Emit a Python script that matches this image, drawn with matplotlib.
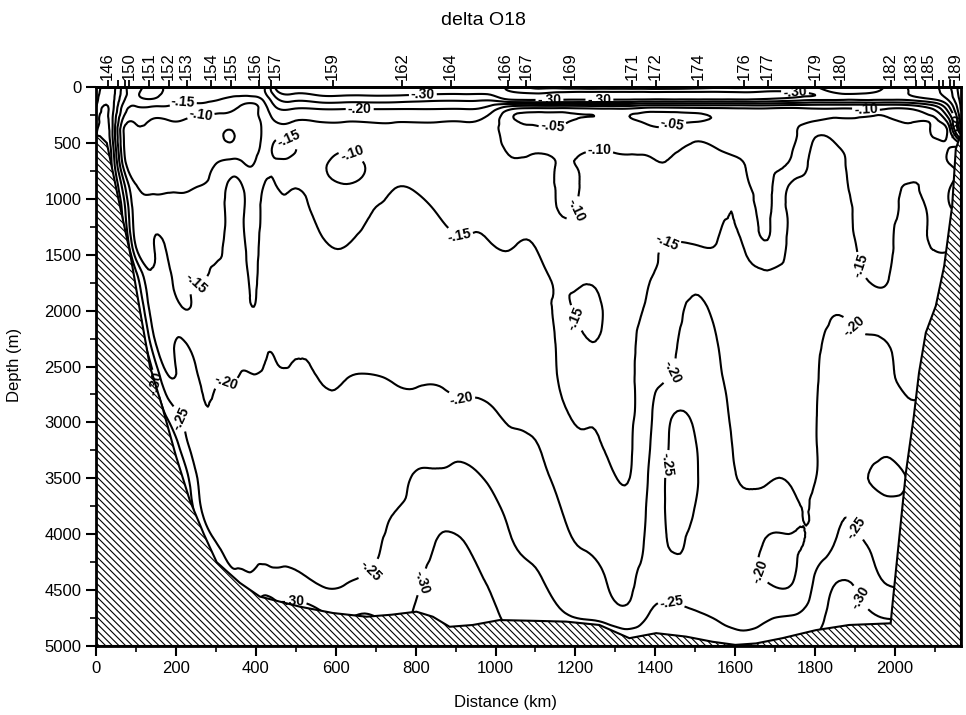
import numpy as np
import matplotlib
matplotlib.use('Agg')
import matplotlib.pyplot as plt
import matplotlib.tri as mtri
from matplotlib.ticker import MultipleLocator

# grid of the section: distance (km) and depth (m)
dist_km = [0, 40, 70, 100, 140, 180, 220, 260, 300, 340, 365, 395, 420, 450, 490,
           560, 620, 680, 740, 800, 860, 920, 980, 1040, 1100, 1160, 1220, 1280,
           1330, 1380, 1440, 1500, 1560, 1620, 1680, 1740, 1800, 1860, 1920, 1980,
           2040, 2090, 2130, 2165]
depth_m = [0, 50, 100, 150, 200, 300, 400, 550, 700, 900, 1100, 1400, 1700, 2000,
           2300, 2600, 2900, 3200, 3500, 3800, 4100, 4400, 4700, 5000]

# delta O18 profiles (one per distance, surface to 5000 m)
d18o = [
    [-.26, -.27, -.28, -.29, -.305, -.32, -.34, -.36, -.36, -.36, -.36, -.36, -.36, -.36, -.36, -.36, -.36, -.36, -.36, -.36, -.36, -.36, -.36, -.36],
    [-.32, -.32, -.32, -.32, -.32, -.31, -.31, -.33, -.345, -.36, -.36, -.36, -.36, -.36, -.36, -.36, -.36, -.36, -.36, -.36, -.36, -.36, -.36, -.36],
    [-.22, -.22, -.21, -.19, -.17, -.13, -.095, -.102, -.13, -.22, -.27, -.32, -.34, -.36, -.36, -.36, -.36, -.36, -.36, -.36, -.36, -.36, -.36, -.36],
    [-.18, -.19, -.185, -.16, -.14, -.11, -.08, -.07, -.08, -.105, -.12, -.14, -.27, -.33, -.36, -.36, -.36, -.36, -.36, -.36, -.36, -.36, -.36, -.36],
    [-.22, -.22, -.205, -.165, -.14, -.095, -.08, -.07, -.08, -.095, -.115, -.14, -.16, -.18, -.235, -.32, -.35, -.36, -.36, -.36, -.36, -.36, -.36, -.36],
    [-.18, -.185, -.17, -.155, -.14, -.098, -.08, -.07, -.08, -.095, -.115, -.14, -.156, -.168, -.18, -.205, -.28, -.35, -.36, -.36, -.36, -.36, -.36, -.36],
    [-.17, -.175, -.16, -.145, -.13, -.098, -.08, -.07, -.075, -.095, -.115, -.135, -.145, -.152, -.205, -.215, -.24, -.27, -.33, -.36, -.36, -.36, -.36, -.36],
    [-.17, -.17, -.16, -.148, -.12, -.09, -.075, -.065, -.08, -.102, -.12, -.14, -.148, -.165, -.18, -.198, -.21, -.225, -.24, -.26, -.32, -.36, -.36, -.36],
    [-.17, -.165, -.155, -.14, -.115, -.09, -.07, -.07, -.102, -.12, -.13, -.142, -.155, -.17, -.185, -.197, -.205, -.215, -.225, -.237, -.255, -.33, -.36, -.36],
    [-.165, -.16, -.145, -.125, -.105, -.08, -.048, -.065, -.12, -.165, -.165, -.165, -.165, -.175, -.185, -.198, -.207, -.212, -.22, -.23, -.24, -.27, -.36, -.36],
    [-.165, -.155, -.14, -.105, -.09, -.075, -.065, -.07, -.11, -.155, -.158, -.16, -.165, -.172, -.187, -.202, -.207, -.212, -.22, -.23, -.24, -.265, -.36, -.36],
    [-.17, -.16, -.14, -.098, -.09, -.08, -.075, -.08, -.102, -.125, -.135, -.14, -.145, -.152, -.175, -.202, -.207, -.212, -.22, -.23, -.24, -.26, -.33, -.36],
    [-.19, -.19, -.165, -.14, -.125, -.115, -.11, -.12, -.135, -.152, -.16, -.163, -.167, -.172, -.19, -.205, -.21, -.213, -.218, -.225, -.235, -.27, -.33, -.36],
    [-.31, -.28, -.245, -.215, -.19, -.153, -.14, -.158, -.145, -.152, -.162, -.168, -.172, -.177, -.192, -.205, -.21, -.213, -.218, -.225, -.235, -.265, -.32, -.36],
    [-.34, -.31, -.27, -.235, -.198, -.153, -.14, -.156, -.14, -.149, -.155, -.165, -.172, -.178, -.192, -.205, -.21, -.213, -.217, -.222, -.232, -.265, -.315, -.36],
    [-.34, -.32, -.28, -.24, -.198, -.153, -.135, -.125, -.11, -.125, -.14, -.155, -.168, -.18, -.19, -.199, -.205, -.21, -.215, -.22, -.23, -.24, -.305, -.34],
    [-.34, -.32, -.28, -.24, -.198, -.153, -.13, -.105, -.085, -.105, -.125, -.148, -.163, -.177, -.188, -.199, -.206, -.212, -.218, -.224, -.232, -.243, -.29, -.34],
    [-.34, -.32, -.28, -.24, -.198, -.153, -.135, -.12, -.105, -.12, -.145, -.16, -.168, -.18, -.19, -.201, -.205, -.212, -.22, -.228, -.238, -.255, -.298, -.34],
    [-.34, -.32, -.28, -.24, -.198, -.153, -.14, -.13, -.135, -.148, -.158, -.165, -.172, -.18, -.19, -.199, -.206, -.215, -.228, -.248, -.258, -.27, -.285, -.33],
    [-.34, -.315, -.275, -.235, -.198, -.153, -.14, -.135, -.14, -.148, -.157, -.165, -.172, -.18, -.19, -.198, -.206, -.225, -.255, -.265, -.275, -.29, -.305, -.34],
    [-.34, -.31, -.27, -.23, -.198, -.153, -.14, -.135, -.137, -.143, -.148, -.158, -.17, -.18, -.19, -.198, -.21, -.235, -.258, -.285, -.305, -.32, -.33, -.34],
    [-.34, -.31, -.27, -.23, -.198, -.153, -.14, -.133, -.135, -.14, -.145, -.152, -.165, -.177, -.187, -.195, -.205, -.235, -.26, -.285, -.302, -.315, -.33, -.34],
    [-.34, -.31, -.27, -.22, -.18, -.135, -.125, -.13, -.135, -.14, -.145, -.151, -.16, -.172, -.182, -.19, -.203, -.215, -.245, -.27, -.28, -.295, -.32, -.34],
    [-.28, -.31, -.32, -.205, -.098, -.06, -.075, -.09, -.11, -.125, -.135, -.148, -.16, -.17, -.18, -.188, -.195, -.205, -.22, -.24, -.252, -.262, -.275, -.31],
    [-.24, -.29, -.32, -.205, -.08, -.04, -.055, -.09, -.11, -.125, -.135, -.148, -.158, -.168, -.178, -.186, -.193, -.201, -.21, -.225, -.24, -.255, -.27, -.31],
    [-.23, -.305, -.32, -.205, -.08, -.04, -.055, -.085, -.098, -.095, -.098, -.12, -.145, -.146, -.145, -.147, -.16, -.178, -.19, -.203, -.215, -.23, -.255, -.31],
    [-.22, -.31, -.32, -.205, -.085, -.06, -.07, -.092, -.105, -.105, -.11, -.13, -.146, -.157, -.146, -.143, -.146, -.155, -.17, -.185, -.198, -.215, -.24, -.31],
    [-.22, -.31, -.32, -.205, -.09, -.065, -.075, -.095, -.11, -.123, -.13, -.137, -.142, -.145, -.143, -.142, -.143, -.146, -.16, -.172, -.185, -.198, -.225, -.31],
    [-.22, -.31, -.32, -.205, -.09, -.06, -.065, -.09, -.105, -.12, -.127, -.133, -.138, -.14, -.14, -.14, -.141, -.143, -.148, -.162, -.175, -.19, -.21, -.31],
    [-.22, -.31, -.32, -.19, -.075, -.04, -.06, -.09, -.105, -.12, -.13, -.142, -.148, -.153, -.165, -.175, -.183, -.19, -.198, -.205, -.21, -.22, -.245, -.31],
    [-.22, -.31, -.32, -.19, -.075, -.04, -.06, -.09, -.105, -.12, -.135, -.151, -.165, -.178, -.19, -.203, -.245, -.255, -.26, -.257, -.252, -.24, -.262, -.31],
    [-.23, -.31, -.32, -.19, -.08, -.045, -.08, -.11, -.125, -.135, -.14, -.149, -.185, -.21, -.22, -.228, -.24, -.252, -.255, -.248, -.24, -.238, -.252, -.31],
    [-.24, -.31, -.32, -.19, -.085, -.06, -.08, -.098, -.12, -.135, -.142, -.152, -.17, -.185, -.198, -.205, -.21, -.213, -.215, -.218, -.222, -.228, -.24, -.28],
    [-.24, -.305, -.32, -.19, -.09, -.07, -.08, -.09, -.102, -.12, -.135, -.148, -.16, -.175, -.185, -.19, -.193, -.195, -.198, -.205, -.21, -.215, -.23, -.27],
    [-.27, -.31, -.31, -.19, -.09, -.07, -.075, -.085, -.09, -.088, -.092, -.103, -.16, -.18, -.188, -.192, -.194, -.196, -.198, -.207, -.197, -.197, -.24, -.28],
    [-.28, -.305, -.295, -.18, -.085, -.075, -.085, -.095, -.11, -.16, -.165, -.165, -.175, -.185, -.19, -.192, -.193, -.195, -.197, -.207, -.195, -.195, -.245, -.28],
    [-.255, -.29, -.28, -.17, -.095, -.098, -.14, -.16, -.165, -.167, -.168, -.17, -.18, -.188, -.195, -.197, -.198, -.198, -.199, -.205, -.215, -.255, -.275, -.31],
    [-.22, -.24, -.27, -.17, -.095, -.11, -.13, -.152, -.16, -.158, -.158, -.16, -.17, -.197, -.21, -.215, -.22, -.225, -.232, -.245, -.26, -.298, -.32, -.34],
    [-.22, -.24, -.27, -.17, -.098, -.11, -.12, -.13, -.135, -.138, -.14, -.142, -.152, -.18, -.205, -.21, -.215, -.225, -.245, -.235, -.255, -.28, -.31, -.34],
    [-.255, -.27, -.27, -.17, -.098, -.11, -.12, -.13, -.135, -.142, -.14, -.142, -.148, -.17, -.201, -.205, -.21, -.235, -.265, -.232, -.238, -.245, -.29, -.34],
    [-.31, -.305, -.28, -.18, -.098, -.095, -.11, -.125, -.135, -.152, -.157, -.16, -.165, -.172, -.18, -.19, -.203, -.215, -.245, -.232, -.238, -.245, -.29, -.34],
    [-.34, -.34, -.31, -.22, -.14, -.095, -.097, -.118, -.13, -.137, -.142, -.148, -.16, -.18, -.19, -.195, -.205, -.215, -.245, -.232, -.238, -.245, -.29, -.34],
    [-.38, -.37, -.355, -.305, -.255, -.16, -.097, -.105, -.106, -.106, -.11, -.14, -.18, -.19, -.195, -.195, -.205, -.215, -.245, -.232, -.238, -.245, -.29, -.34],
    [-.48, -.48, -.47, -.46, -.455, -.44, -.42, -.08, -.08, -.085, -.09, -.155, -.18, -.19, -.195, -.195, -.205, -.215, -.245, -.232, -.238, -.245, -.29, -.34],
]

# seafloor outline
bottom_km = [0, 10, 27, 56, 85, 110, 135, 165, 200, 235, 270, 302, 360, 410, 510, 593,
             677, 740, 802, 843, 885, 943, 1010, 1100, 1177, 1260, 1335, 1402, 1477,
             1543, 1600, 1652, 1718, 1802, 1885, 1989, 1993, 2010, 2027, 2047, 2060,
             2077, 2102, 2123, 2143, 2152, 2165]
bottom_m = [430, 440, 500, 1000, 1480, 2000, 2500, 2850, 3300, 3700, 4000, 4250, 4435,
            4558, 4648, 4705, 4738, 4720, 4693, 4738, 4828, 4812, 4768, 4775, 4782,
            4812, 4930, 4885, 4916, 4962, 4990, 4977, 4930, 4858, 4812, 4797, 4648,
            4050, 3452, 2944, 2555, 2197, 1958, 1600, 1061, 554, 420]

# stations along the top (tick at the station, label nudged where crowded)
station_km = [31, 83, 133, 183, 227, 289, 339, 408, 439, 593, 767, 888, 1031, 1077,
              1189, 1342, 1402, 1508, 1623, 1681, 1800, 1864, 1989, 2052, 2075, 2148]
station_label_km = [28, 82, 132, 181, 226, 288, 338, 398, 448, 592, 766, 887, 1024, 1078,
                    1188, 1341, 1401, 1507, 1622, 1680, 1799, 1863, 1988, 2040, 2084, 2150]
station_names = ['146', '150', '151', '152', '153', '154', '155', '156', '157', '159',
                 '162', '164', '166', '167', '169', '171', '172', '174', '176', '177',
                 '179', '180', '182', '183', '185', '189']
other_station_km = [56, 73, 2110, 2121, 2138]

levels = [-0.45, -0.40, -0.35, -0.30, -0.25, -0.20, -0.15, -0.10, -0.05]

# where the contour labels sit (km, m)
label_spots = [(218, 150), (262, 255), (485, 446), (640, 600), (660, 205), (818, 60),
               (910, 1330), (252, 1764), (327, 2616), (918, 2750), (150, 2650),
               (214, 2960), (685, 4320), (493, 4610), (830, 4440), (1135, 110),
               (1260, 100), (1143, 360), (1443, 344), (1260, 613), (1225, 1120),
               (1430, 1390), (1205, 2060), (1440, 2545), (1445, 3380), (1443, 4570),
               (1630, 4380), (1750, 25), (1927, 210), (1910, 1600), (1910, 2093),
               (1902, 3940), (1918, 4560), (2150, 355)]

plt.rcParams['font.family'] = ['Liberation Sans', 'DejaVu Sans']
plt.rcParams['hatch.linewidth'] = 0.8

fig = plt.figure(figsize=(9.66, 7.15), dpi=100)
ax = fig.add_axes([0.0994, 0.0965, 0.8954, 0.7818])

# triangulate the grid and smooth it with the cubic refiner
nx, nz = len(dist_km), len(depth_m)
xx, zz = np.meshgrid(dist_km, depth_m, indexing='ij')
tris = []
for i in range(nx - 1):
    for j in range(nz - 1):
        a = i * nz + j
        b = (i + 1) * nz + j
        tris.append([a, b, b + 1])
        tris.append([a, b + 1, a + 1])
triang = mtri.Triangulation(xx.ravel(), zz.ravel(), tris)
vals = np.array(d18o).ravel()
interp = mtri.CubicTriInterpolator(triang, vals, kind='min_E')
refiner = mtri.UniformTriRefiner(triang)
tri_f, val_f = refiner.refine_field(vals, triinterpolator=interp, subdiv=3)

cs = ax.tricontour(tri_f, val_f, levels=levels, colors='black',
                   linewidths=1.5, linestyles='solid')

def fmt(v):
    return f'{v:.2f}'.replace('-0.', '-.')

labels = ax.clabel(cs, manual=label_spots, inline=True, inline_spacing=2,
                   fmt=fmt, fontsize=10)
for t in labels:
    t.set_fontweight('bold')

# seafloor
poly_x = bottom_km + [2165, 0]
poly_y = bottom_m + [5000, 5000]
ax.fill(poly_x, poly_y, facecolor='white', edgecolor='black', hatch='\\\\\\\\\\',
        linewidth=1.5, zorder=3)

ax.set_xlim(0, 2165)
ax.set_ylim(5000, 0)
ax.xaxis.set_major_locator(MultipleLocator(200))
ax.xaxis.set_minor_locator(MultipleLocator(100))
ax.yaxis.set_major_locator(MultipleLocator(500))
ax.yaxis.set_minor_locator(MultipleLocator(250))
ax.tick_params(which='major', direction='out', length=7, width=1.5, labelsize=12,
               top=False, right=False)
ax.tick_params(which='minor', direction='out', length=4.5, width=1.2,
               top=False, right=False)
for s in ax.spines.values():
    s.set_linewidth(2)
    s.set_zorder(5)

top = ax.secondary_xaxis('top')
top.set_xticks(station_km, labels=[''] * len(station_km))
top.set_xticks(other_station_km, minor=True)
top.tick_params(which='both', direction='out', length=5, width=1.3)
top.spines['top'].set_linewidth(2)
for km, name in zip(station_label_km, station_names):
    ax.text(km, 1.012, name, transform=ax.get_xaxis_transform(), rotation=90,
            ha='center', va='bottom', fontsize=12)

fig.text(0.5, 0.972, 'delta O18', ha='center', va='center', fontsize=14)
fig.text(0.015, 0.49, 'Depth (m)', rotation=90, ha='center', va='center', fontsize=12)
fig.text(0.523, 0.017, 'Distance (km)', ha='center', va='center', fontsize=12)

fig.savefig('out.png', dpi=100)
